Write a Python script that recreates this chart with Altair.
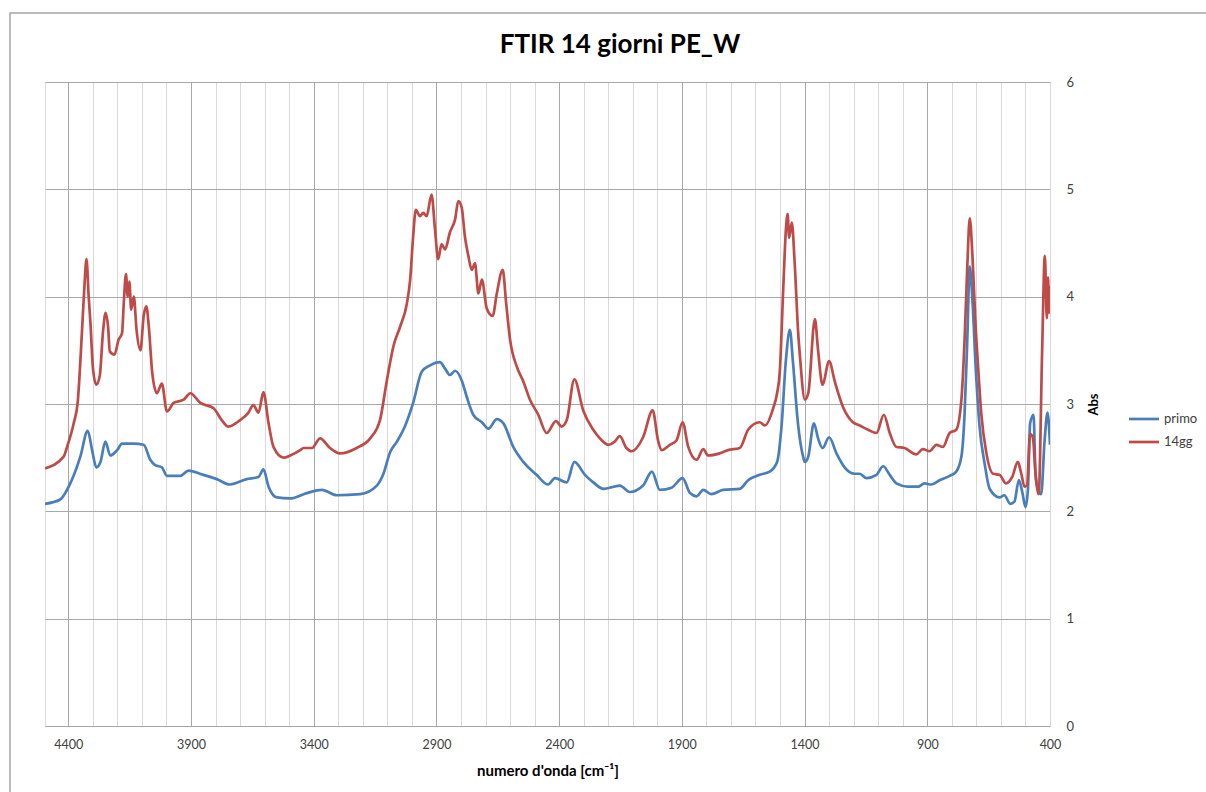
import altair as alt
import pandas as pd

# Wavenumbers (cm^-1) and absorbance for the two spectra
primo_wn = [4495, 4433, 4392, 4351, 4321, 4303, 4286, 4269, 4249, 4229, 4201, 4181, 4133, 4093,
            4066, 4046, 4019, 3998, 3944, 3910, 3850, 3795, 3741, 3673, 3625, 3605, 3584, 3550,
            3496, 3428, 3367, 3306, 3211, 3143, 3116, 3089, 3061, 3027, 2995, 2960, 2926, 2886,
            2865, 2845, 2824, 2797, 2777, 2750, 2715, 2688, 2654, 2627, 2587, 2546, 2492, 2445,
            2417, 2369, 2338, 2295, 2261, 2220, 2153, 2112, 2058, 2022, 1990, 1942, 1897, 1867,
            1840, 1813, 1780, 1732, 1664, 1630, 1583, 1542, 1512, 1494, 1476, 1460, 1447, 1427,
            1406, 1399, 1385, 1362, 1345, 1327, 1300, 1270, 1237, 1196, 1175, 1148, 1107, 1080,
            1053, 1026, 979, 938, 911, 884, 850, 809, 782, 761, 748, 737, 727, 716, 703, 687,
            666, 646, 606, 586, 562, 545, 527, 513, 500, 490, 481, 467, 459, 450, 436, 422,
            410, 400]
primo_abs = [2.07, 2.11, 2.26, 2.51, 2.75, 2.57, 2.41, 2.46, 2.65, 2.52, 2.57, 2.63, 2.63, 2.62,
             2.48, 2.43, 2.41, 2.33, 2.33, 2.38, 2.34, 2.30, 2.25, 2.30, 2.32, 2.39, 2.23, 2.13,
             2.12, 2.17, 2.20, 2.15, 2.16, 2.24, 2.35, 2.55, 2.65, 2.80, 3.01, 3.30, 3.36, 3.39,
             3.33, 3.27, 3.31, 3.22, 3.07, 2.90, 2.83, 2.77, 2.86, 2.82, 2.60, 2.46, 2.34, 2.25,
             2.31, 2.27, 2.46, 2.34, 2.27, 2.21, 2.24, 2.18, 2.24, 2.37, 2.20, 2.22, 2.31, 2.17,
             2.14, 2.20, 2.16, 2.20, 2.21, 2.29, 2.34, 2.37, 2.46, 2.79, 3.41, 3.69, 3.38, 2.82,
             2.51, 2.46, 2.51, 2.82, 2.68, 2.59, 2.69, 2.54, 2.41, 2.35, 2.35, 2.31, 2.34, 2.42,
             2.34, 2.26, 2.23, 2.23, 2.26, 2.25, 2.29, 2.33, 2.37, 2.51, 2.91, 3.60, 4.28, 3.97,
             3.35, 2.79, 2.44, 2.21, 2.13, 2.15, 2.07, 2.09, 2.29, 2.18, 2.04, 2.20, 2.82, 2.90,
             2.35, 2.21, 2.16, 2.66, 2.92, 2.62]

gg14_wn = [4495, 4419, 4405, 4378, 4362, 4344, 4335, 4326, 4317, 4310, 4299, 4286, 4272, 4258,
           4248, 4238, 4231, 4212, 4195, 4181, 4174, 4165, 4158, 4151, 4144, 4133, 4122, 4106,
           4093, 4082, 4072, 4058, 4039, 4019, 3998, 3971, 3930, 3903, 3862, 3808, 3775, 3748,
           3700, 3666, 3646, 3625, 3605, 3584, 3564, 3523, 3496, 3455, 3442, 3407, 3374, 3334,
           3293, 3225, 3170, 3130, 3102, 3075, 3048, 3021, 3007, 2995, 2984, 2967, 2954, 2940,
           2920, 2906, 2893, 2879, 2865, 2845, 2824, 2811, 2797, 2784, 2770, 2756, 2743, 2729,
           2715, 2695, 2671, 2654, 2630, 2616, 2600, 2573, 2546, 2519, 2485, 2451, 2413, 2390,
           2369, 2338, 2302, 2261, 2234, 2200, 2173, 2153, 2126, 2105, 2058, 2019, 1997, 1983,
           1949, 1922, 1897, 1874, 1840, 1813, 1793, 1746, 1712, 1664, 1630, 1583, 1562, 1528,
           1512, 1501, 1487, 1476, 1469, 1463, 1452, 1440, 1426, 1419, 1399, 1385, 1358, 1345,
           1327, 1300, 1277, 1243, 1203, 1175, 1141, 1107, 1077, 1053, 1026, 993, 945, 918,
           891, 863, 836, 809, 782, 761, 748, 737, 727, 716, 703, 693, 680, 659, 632, 606,
           579, 554, 531, 517, 504, 494, 481, 470, 459, 446, 432, 421, 413, 408, 404, 400]
gg14_abs = [2.40, 2.51, 2.60, 2.82, 3.01, 3.69, 4.07, 4.35, 4.00, 3.76, 3.32, 3.18, 3.26, 3.69,
            3.85, 3.72, 3.49, 3.46, 3.60, 3.66, 3.94, 4.21, 4.00, 4.14, 3.88, 4.00, 3.69, 3.50,
            3.82, 3.91, 3.72, 3.29, 3.10, 3.19, 2.93, 3.01, 3.04, 3.10, 3.01, 2.96, 2.85, 2.79,
            2.85, 2.92, 2.99, 2.92, 3.11, 2.82, 2.60, 2.50, 2.52, 2.57, 2.59, 2.59, 2.68, 2.59,
            2.54, 2.59, 2.68, 2.85, 3.22, 3.54, 3.72, 3.93, 4.16, 4.56, 4.81, 4.75, 4.78, 4.75,
            4.95, 4.63, 4.35, 4.49, 4.44, 4.60, 4.72, 4.89, 4.83, 4.56, 4.38, 4.25, 4.31, 4.03,
            4.16, 3.89, 3.82, 4.03, 4.25, 3.94, 3.60, 3.35, 3.21, 3.04, 2.90, 2.73, 2.84, 2.79,
            2.85, 3.23, 2.94, 2.76, 2.68, 2.62, 2.65, 2.70, 2.59, 2.56, 2.69, 2.94, 2.66, 2.57,
            2.62, 2.66, 2.83, 2.60, 2.48, 2.58, 2.52, 2.54, 2.57, 2.59, 2.76, 2.83, 2.80, 2.96,
            3.10, 3.30, 4.07, 4.63, 4.77, 4.55, 4.69, 4.30, 3.66, 3.45, 3.04, 3.10, 3.79, 3.50,
            3.18, 3.40, 3.21, 2.97, 2.83, 2.80, 2.76, 2.73, 2.90, 2.73, 2.60, 2.59, 2.53, 2.58,
            2.56, 2.62, 2.60, 2.73, 2.76, 3.04, 3.60, 4.28, 4.73, 4.38, 3.72, 3.35, 2.91, 2.54,
            2.35, 2.34, 2.26, 2.32, 2.46, 2.35, 2.23, 2.24, 2.72, 2.69, 2.35, 2.16, 3.50, 4.38,
            3.80, 4.18, 3.85, 4.10]

series_names = ["primo", "14gg"]
series_colors = ["#4A7EBB", "#BE4B48"]

x_ticks = list(range(400, 4500, 100))
y_ticks = [0, 1, 2, 3, 4, 5, 6]

chart_title = "FTIR 14 giorni PE_W"

df = pd.concat([
    pd.DataFrame({"wn": primo_wn, "abs": primo_abs, "serie": "primo"}),
    pd.DataFrame({"wn": gg14_wn, "abs": gg14_abs, "serie": "14gg"}),
])

FONT = "Lato"
W, H = 1005, 644

lines = alt.Chart(df).mark_line(strokeWidth=2.7, clip=True, interpolate="monotone").encode(
    x=alt.X(
        "wn:Q",
        scale=alt.Scale(domain=[4495, 400], nice=False, zero=False),
        axis=alt.Axis(
            values=x_ticks,
            labelExpr="(datum.value - 400) % 500 == 0 ? datum.label : ''",
            format="d",
            title="numero d'onda [cm⁻¹]",
            titleFont=FONT, titleFontSize=15, titleFontWeight="bold", titleColor="#000000",
            titlePadding=13,
            labelFont=FONT, labelFontSize=12.5, labelColor="#404040", labelPadding=12,
            labelOverlap=False, labelFlush=False,
            ticks=False,
            domainColor="#a6a6a6", domainWidth=1,
            grid=True,
            gridColor={"condition": {"test": "(datum.value - 400) % 500 == 0", "value": "#a8a8a8"},
                       "value": "#d9d9d9"},
            gridWidth=1,
        ),
    ),
    y=alt.Y(
        "abs:Q",
        scale=alt.Scale(domain=[0, 6], nice=False),
        axis=alt.Axis(
            orient="right",
            values=y_ticks,
            title="Abs",
            titleAngle=270,
            titleBaseline="top",
            titleFont=FONT, titleFontSize=13, titleFontWeight="bold", titleColor="#000000",
            titlePadding=14,
            labelFont=FONT, labelFontSize=13, labelColor="#404040", labelPadding=16,
            ticks=False, domain=True, domainColor="#d9d9d9",
            grid=True, gridColor="#a8a8a8", gridWidth=1,
        ),
    ),
    color=alt.Color(
        "serie:N",
        scale=alt.Scale(domain=series_names, range=series_colors),
        sort=series_names,
        legend=alt.Legend(
            title=None, orient="none", legendX=1090, legendY=328,
            symbolType="M-2,0H2", symbolSize=225, symbolStrokeWidth=2.7,
            labelFont=FONT, labelFontSize=13, labelColor="#404040",
            labelOffset=11, rowPadding=7,
        ),
    ),
    order="wn:Q",
)

# chart title, centred on the whole chart area
title_text = alt.Chart(pd.DataFrame({"t": [chart_title]})).mark_text(
    font=FONT, fontSize=26, fontWeight="bold", color="#000000", align="center", baseline="middle"
).encode(text="t:N", x=alt.value(575), y=alt.value(-37))

# outer chart-area frame
frame = alt.Chart(pd.DataFrame({"k": [0]})).mark_rect(
    fill="transparent", stroke="#a6a6a6", strokeWidth=1.5
).encode(x=alt.value(-35), x2=alt.value(1250), y=alt.value(-69), y2=alt.value(800))

chart = alt.layer(frame, lines, title_text).properties(
    width=W, height=H,
    autosize=alt.AutoSizeParams(type="none"),
    padding={"left": 45, "top": 82, "right": 156, "bottom": 66},
).configure_view(stroke="#d9d9d9", strokeWidth=1).configure(background="white")

chart.save("out.html", embed_options={"renderer": "svg", "actions": False})
